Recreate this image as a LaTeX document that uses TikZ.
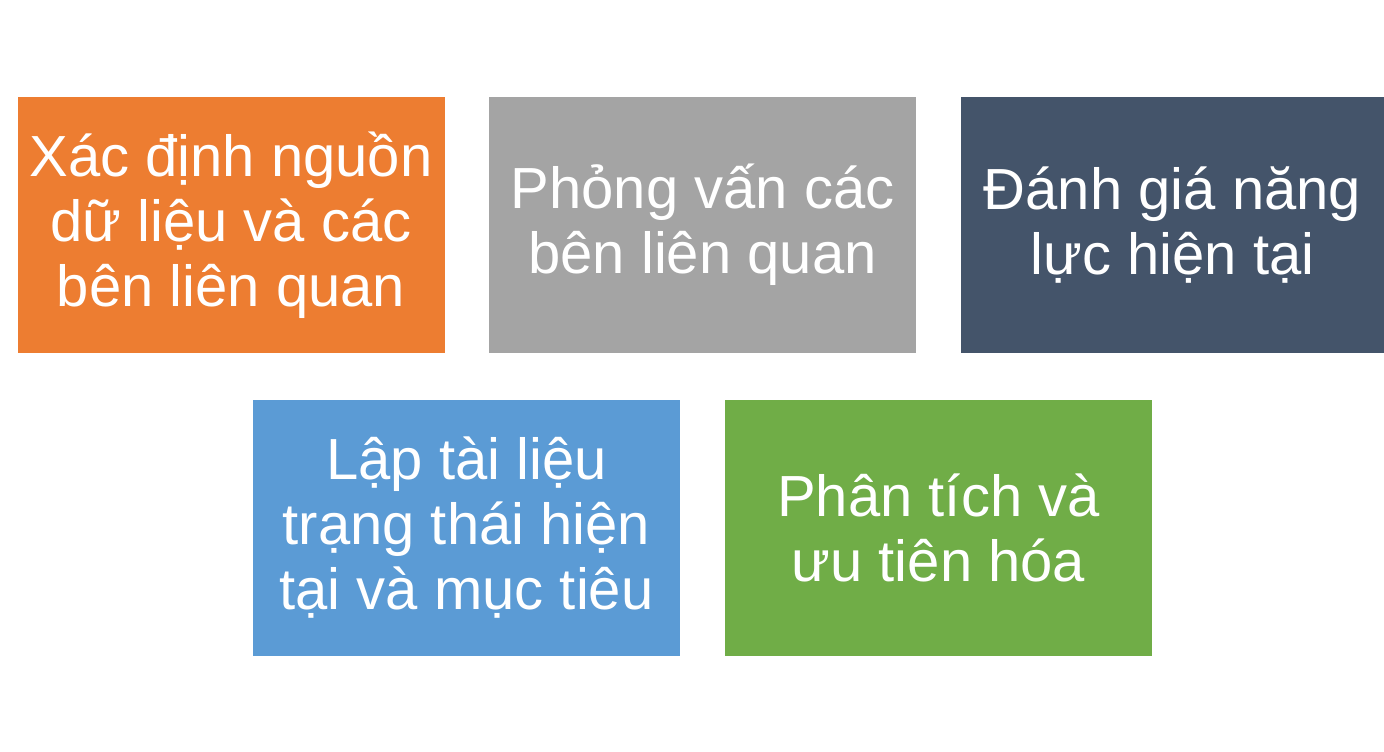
\documentclass[tikz,border=0pt]{standalone}
\usepackage{fontspec}
\setmainfont{Liberation Sans}
\definecolor{cOrange}{HTML}{ED7D31}
\definecolor{cGray}{HTML}{A4A4A4}
\definecolor{cDark}{HTML}{44546A}
\definecolor{cBlue}{HTML}{5B9BD5}
\definecolor{cGreen}{HTML}{70AD47}
\tikzset{
  stepbox/.style={rectangle, inner sep=0pt, minimum width=427pt, minimum height=256pt,
    text=white, align=center, font=\fontsize{58}{65}\selectfont},
}
\begin{document}
\begin{tikzpicture}[x=1pt,y=-1pt]
\useasboundingbox[fill=white] (0,0) rectangle (1384,752);
\node[stepbox, fill=cOrange] (a) at (231,225) {Xác định nguồn\\dữ liệu và các\\bên liên quan};
\node[stepbox, fill=cGray] (b) at (702.5,225) {Phỏng vấn các\\bên liên quan};
\node[stepbox, fill=cDark, minimum width=423pt] (c) at (1172.5,225) {Đánh giá năng\\lực hiện tại};
\node[stepbox, fill=cBlue] (d) at (466.5,527.5) {Lập tài liệu\\trạng thái hiện\\tại và mục tiêu};
\node[stepbox, fill=cGreen] (e) at (938.5,527.5) {Phân tích và\\ưu tiên hóa};
\end{tikzpicture}
\end{document}
